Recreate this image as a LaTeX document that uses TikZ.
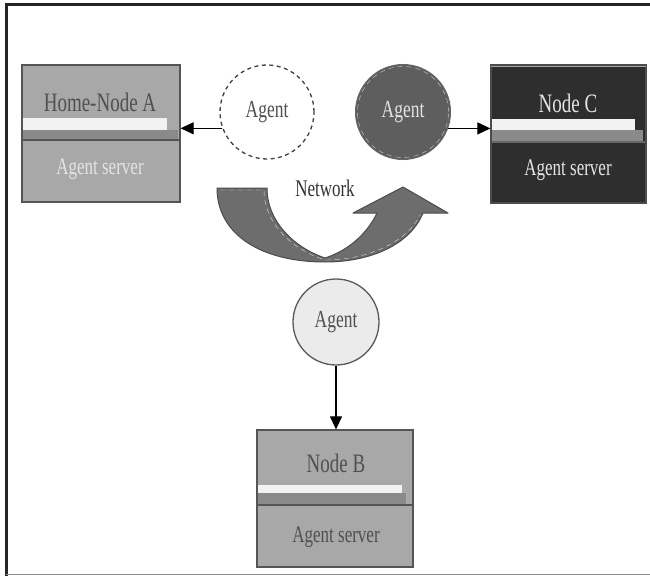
\documentclass[tikz,border=0pt]{standalone}
\usepackage{fontspec}
\setmainfont{Liberation Serif}
\usetikzlibrary{arrows.meta}
\definecolor{boxgray}{HTML}{A8A8A8}
\definecolor{stripgray}{HTML}{8A8A8A}
\definecolor{stripwhite}{HTML}{F2F2F2}
\definecolor{darkbox}{HTML}{2E2E2E}
\definecolor{edge}{HTML}{555555}
\definecolor{agentdark}{HTML}{5E5E5E}
\definecolor{agentlight}{HTML}{EBEBEB}
\definecolor{netgray}{HTML}{6D6D6D}
\definecolor{txtdark}{HTML}{505050}
\definecolor{txtlight}{HTML}{E4E4E4}
\newcommand{\stretchtxt}[1]{\scalebox{1}[1.4]{#1}}
\tikzset{
  boxframe/.style={draw=edge, line width=1.2bp, minimum width=#1, inner sep=0pt},
  bigtxt/.style={font=\fontsize{19bp}{20bp}\selectfont, inner sep=0pt},
  smalltxt/.style={font=\fontsize{17bp}{18bp}\selectfont, inner sep=0pt},
  agentnode/.style={circle, minimum size=#1, inner sep=0pt, font=\fontsize{17.5bp}{18bp}\selectfont},
  link/.style={draw=black, line width=1.1bp, -{Triangle[length=13bp,width=12bp]}},
}
\begin{document}
\begin{tikzpicture}[x=1bp,y=-1bp]
\useasboundingbox (0,0) rectangle (650,576);
\fill[white] (0,0) rectangle (650,576);
% frame
\draw[line width=3bp, color=black!85] (6,576) -- (6,5) -- (650,5);
\draw[line width=1.5bp, color=black!45] (6,574.5) -- (650,574.5);

% ---------- Home-Node A ----------
\fill[boxgray] (22,65) rectangle (180,202);
\fill[stripgray] (22,130) rectangle (178,140);
\fill[stripwhite] (22,118) rectangle (167,130);
\draw[edge, line width=1.2bp] (22,140) -- (180,140);
\node[boxframe=158bp, minimum height=137bp] (a) at (101,133.5) {};
\node[bigtxt, text=txtdark] (atop) at (100,102) {\stretchtxt{Home-Node A}};
\node[smalltxt, text=txtlight] (abot) at (100,169) {\stretchtxt{Agent server}};

% ---------- Node C ----------
\fill[darkbox] (491,65) rectangle (646,203);
\fill[stripgray] (491,130) rectangle (643,141);
\fill[stripwhite] (491,119) rectangle (635,130);
\draw[black!60, line width=1.2bp] (491,142) -- (646,142);
\node[boxframe=155bp, minimum height=138bp, draw=black!70] (c) at (568.5,134) {};
\draw[black!35, line width=0.8bp] (491,66) -- (646,66);
\node[bigtxt, text=txtlight] (ctop) at (568,103) {\stretchtxt{Node C}};
\node[smalltxt, text=txtlight] (cbot) at (568,170) {\stretchtxt{Agent server}};

% ---------- Node B ----------
\fill[boxgray] (257,430) rectangle (413,567);
\fill[stripgray] (257,493) rectangle (406,505);
\fill[stripwhite] (257,485) rectangle (402,493);
\draw[edge, line width=1.2bp] (257,505) -- (413,505);
\node[boxframe=156bp, minimum height=137bp] (b) at (335,498.5) {};
\node[bigtxt, text=txtdark] (btop) at (336,463) {\stretchtxt{Node B}};
\node[smalltxt, text=txtdark] (bbot) at (336,537) {\stretchtxt{Agent server}};

% ---------- Agents ----------
\node[agentnode=94bp, draw=black!75, dashed, line width=1.3bp, dash pattern=on 4bp off 3.5bp, text=txtdark] (ag1) at (267,112) {\stretchtxt{Agent}};
\node[agentnode=95bp, fill=agentdark, draw=black!60, line width=1bp, text=txtlight] (ag2) at (403,112) {\stretchtxt{Agent}};
\draw[white!80!black, line width=0.4bp, dash pattern=on 5bp off 4bp] (ag2) circle[radius=45.5bp];
\node[agentnode=86bp, fill=agentlight, draw=black!65, line width=1.3bp, text=txtdark] (ag3) at (336,322) {\stretchtxt{Agent}};

% ---------- connectors ----------
\draw[link] (ag1.200) -- (ag1.200 -| a.east);
\draw[link] (ag2.340) -- (ag2.340 -| c.west);
\draw[link] (ag3.south) -- (ag3.south |- b.north);

% ---------- Network arrow ----------
\path[fill=netgray, draw=black!70, line width=1bp, line join=round]
  (217,188) -- (267,188)
  .. controls (267,222) and (295,248) .. (325,258)
  .. controls (350,250) and (368,232) .. (377,213)
  -- (353,213) -- (403,187) -- (448,213) -- (423,213)
  .. controls (410,245) and (370,262) .. (325,262)
  .. controls (262,262) and (217,235) .. (217,188) -- cycle;
\draw[white!85!black, line width=0.4bp, dash pattern=on 5bp off 4bp]
  (220,190) -- (264,190)
  .. controls (264,224) and (293,250) .. (325,260)
  .. controls (365,260) and (406,244) .. (420,215);
\node[smalltxt, text=black!80] (net) at (325,188) {\stretchtxt{Network}};
\end{tikzpicture}
\end{document}
